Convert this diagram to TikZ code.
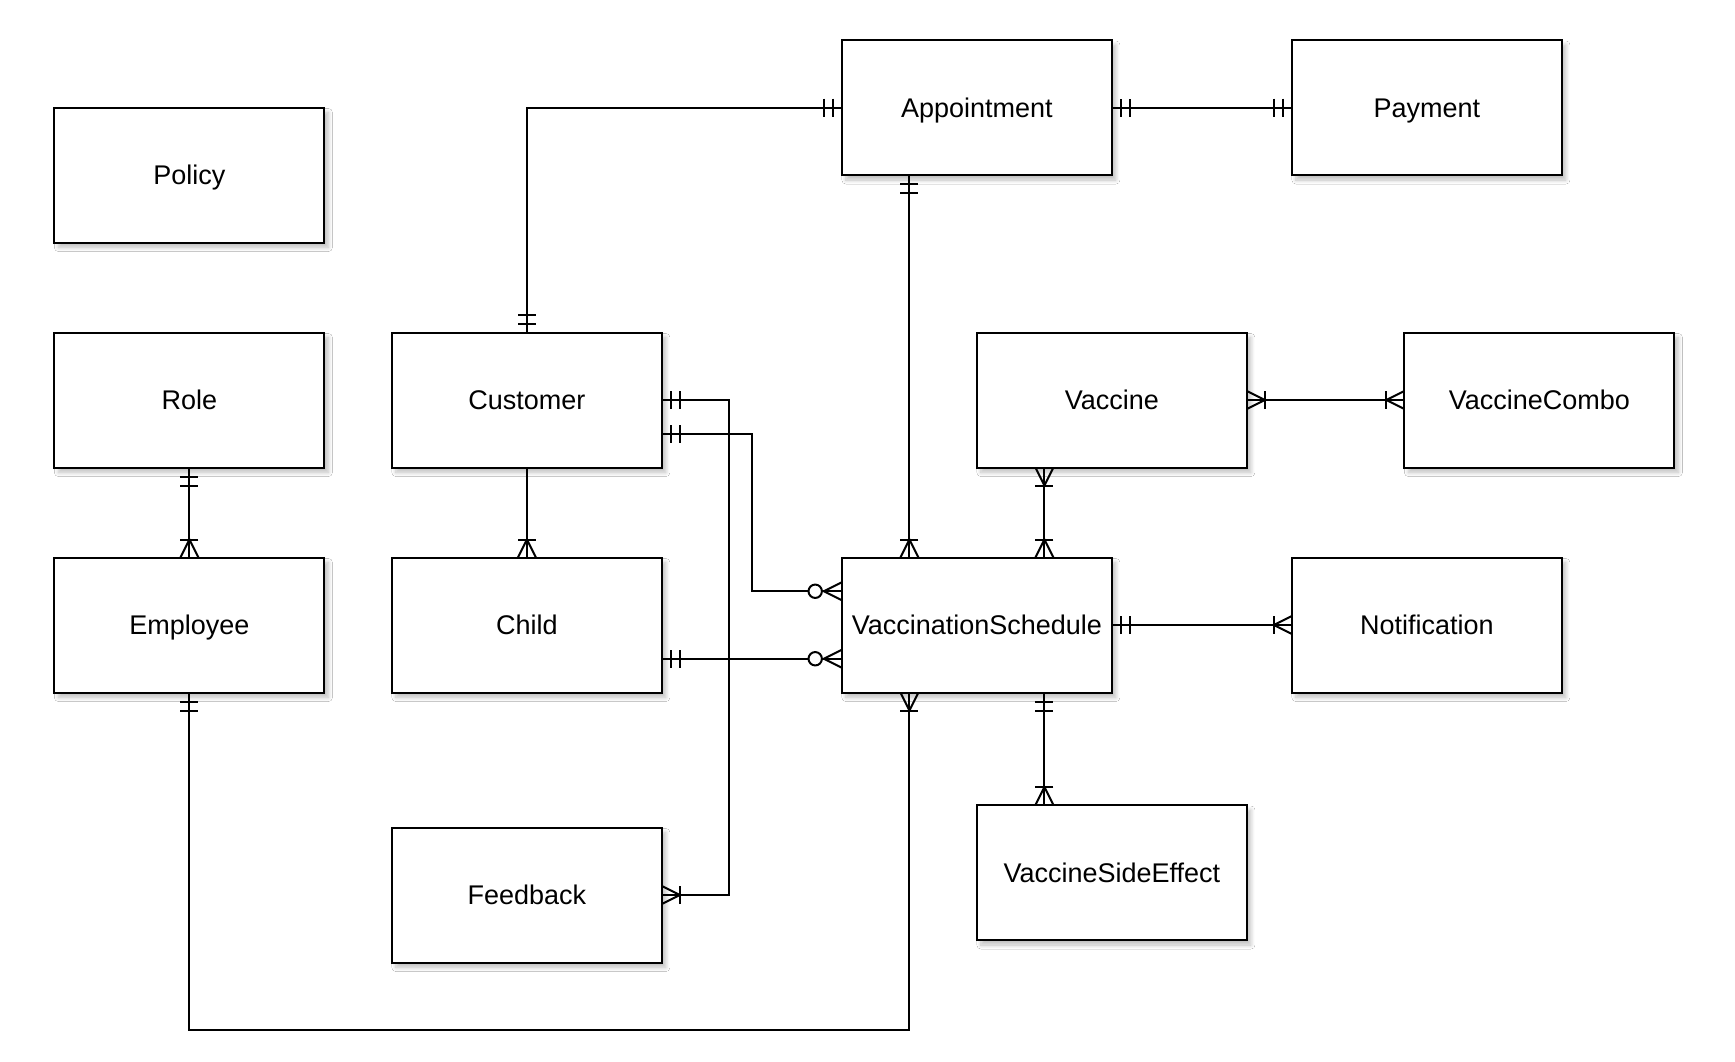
\documentclass[tikz,border=0pt]{standalone}
\usepackage{fontspec}
\setmainfont{Liberation Sans}
\usetikzlibrary{shadows.blur}
\tikzset{
  ent/.style={draw=black, line width=2pt, fill=white, minimum width=270pt, minimum height=135pt,
    inner sep=0pt, outer sep=0pt, font=\fontsize{27}{32}\selectfont, text height=19.6pt, text depth=0pt,
    blur shadow={shadow xshift=4pt, shadow yshift=-5pt, shadow blur radius=4pt, shadow blur steps=10, shadow opacity=25}},
  conn/.style={draw=black, line width=2pt},
  mk/.style={draw=black, line width=2pt},
  mandone/.pic={
    \draw[mk] (9pt,-9pt) -- (9pt,9pt);
    \draw[mk] (18pt,-9pt) -- (18pt,9pt);
  },
  onemany/.pic={
    \draw[mk] (0pt,-9pt) -- (18pt,0pt) -- (0pt,9pt);
    \draw[mk] (18pt,-9pt) -- (18pt,9pt);
  },
  zeromany/.pic={
    \draw[mk] (0pt,-9pt) -- (18pt,0pt) -- (0pt,9pt);
    \draw[mk] (0pt,0pt) -- (20pt,0pt);
    \draw[mk, fill=white] (26.7pt,0pt) circle (6.7pt);
  }
}
\begin{document}
\begin{tikzpicture}[x=2.25pt, y=-2.25pt]
\useasboundingbox[fill=white] (-24.18,-17.78) rectangle (746.93,454.22);

% entities
\node[ent] (policy) at (60,60) {Policy};
\node[ent] (role) at (60,160) {Role};
\node[ent] (employee) at (60,260) {Employee};
\node[ent] (customer) at (210,160) {Customer};
\node[ent] (child) at (210,260) {Child};
\node[ent] (feedback) at (210,380) {Feedback};
\node[ent] (appointment) at (410,30) {Appointment};
\node[ent] (payment) at (610,30) {Payment};
\node[ent] (vaccine) at (470,160) {Vaccine};
\node[ent] (combo) at (660,160) {VaccineCombo};
\node[ent] (schedule) at (410,260) {VaccinationSchedule};
\node[ent] (notification) at (610,260) {Notification};
\node[ent] (vse) at (470,370) {VaccineSideEffect};

% connectors
\draw[conn] (customer.north) |- (appointment.west);
\pic[rotate=90] at (customer.north) {mandone};
\pic[rotate=180] at (appointment.west) {mandone};

\draw[conn] (appointment.east) -- (payment.west);
\pic at (appointment.east) {mandone};
\pic[rotate=180] at (payment.west) {mandone};

\draw[conn] ([xshift=-67.5pt]appointment.south) -- ([xshift=-67.5pt]schedule.north);
\pic[rotate=-90] at ([xshift=-67.5pt]appointment.south) {mandone};
\pic[rotate=90] at ([xshift=-67.5pt]schedule.north) {onemany};

\draw[conn] (vaccine.east) -- (combo.west);
\pic at (vaccine.east) {onemany};
\pic[rotate=180] at (combo.west) {onemany};

\draw[conn] ([xshift=-67.5pt]vaccine.south) -- ([xshift=67.5pt]schedule.north);
\pic[rotate=-90] at ([xshift=-67.5pt]vaccine.south) {onemany};
\pic[rotate=90] at ([xshift=67.5pt]schedule.north) {onemany};

\draw[conn] (role.south) -- (employee.north);
\pic[rotate=-90] at (role.south) {mandone};
\pic[rotate=90] at (employee.north) {onemany};

\draw[conn] (customer.south) -- (child.north);
\pic[rotate=90] at (child.north) {onemany};

\draw[conn] ([yshift=-33.75pt]customer.east) -- ++(90pt,0pt) |- ([yshift=33.75pt]schedule.west);
\pic at ([yshift=-33.75pt]customer.east) {mandone};
\pic[rotate=180] at ([yshift=33.75pt]schedule.west) {zeromany};

\draw[conn] (customer.east) -- ++(67.5pt,0pt) |- (feedback.east);
\pic at (customer.east) {mandone};
\pic at (feedback.east) {onemany};

\draw[conn] ([yshift=-33.75pt]child.east) -- ([yshift=-33.75pt]schedule.west);
\pic at ([yshift=-33.75pt]child.east) {mandone};
\pic[rotate=180] at ([yshift=-33.75pt]schedule.west) {zeromany};

\draw[conn] (schedule.east) -- (notification.west);
\pic at (schedule.east) {mandone};
\pic[rotate=180] at (notification.west) {onemany};

\draw[conn] ([xshift=67.5pt]schedule.south) -- ([xshift=-67.5pt]vse.north);
\pic[rotate=-90] at ([xshift=67.5pt]schedule.south) {mandone};
\pic[rotate=90] at ([xshift=-67.5pt]vse.north) {onemany};

\draw[conn] (employee.south) -- ++(0pt,-337.5pt) -| ([xshift=-67.5pt]schedule.south);
\pic[rotate=-90] at (employee.south) {mandone};
\pic[rotate=-90] at ([xshift=-67.5pt]schedule.south) {onemany};
\end{tikzpicture}
\end{document}
